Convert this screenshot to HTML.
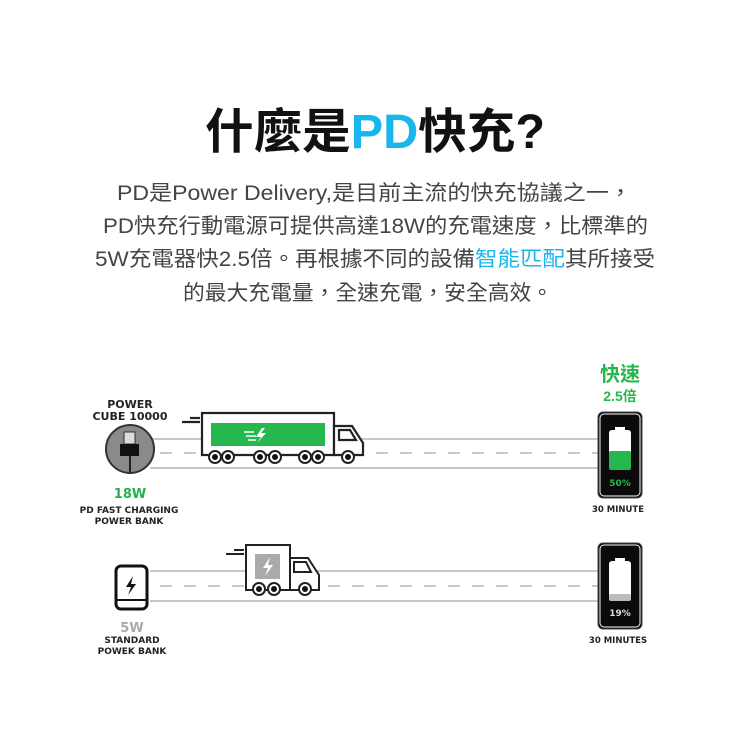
<!DOCTYPE html>
<html><head><meta charset="utf-8"><style>
html,body{margin:0;padding:0;background:#fff;}
svg{display:block;}
.t{font-family:"Liberation Sans","Noto Sans CJK TC",sans-serif;}
.p{font-family:"Liberation Sans","Noto Sans CJK TC",sans-serif;font-size:21px;fill:#444;}
.b{font-family:"DejaVu Sans","Liberation Sans",sans-serif;font-weight:bold;fill:#222;}
</style></head><body>
<svg width="750" height="750" viewBox="0 0 750 750" xmlns="http://www.w3.org/2000/svg">
<rect width="750" height="750" fill="#fff"/>
<text class="t" x="375" y="148" text-anchor="middle" font-size="48" font-weight="bold" fill="#111" textLength="340" lengthAdjust="spacingAndGlyphs">什麼是<tspan fill="#18b6ec">PD</tspan>快充?</text>
<text class="p" x="117" y="200" textLength="515" lengthAdjust="spacingAndGlyphs">PD是Power Delivery,是目前主流的快充協議之一，</text>
<text class="p" x="103" y="233" textLength="545" lengthAdjust="spacingAndGlyphs">PD快充行動電源可提供高達18W的充電速度，比標準的</text>
<text class="p" x="95" y="266" textLength="560" lengthAdjust="spacingAndGlyphs">5W充電器快2.5倍。再根據不同的設備<tspan fill="#18b6ec">智能匹配</tspan>其所接受</text>
<text class="p" x="183" y="300" textLength="370" lengthAdjust="spacingAndGlyphs">的最大充電量，全速充電，安全高效。</text>

<!-- road 1 -->
<g stroke="#c8c8c8" stroke-width="2">
<line x1="150" y1="439" x2="600" y2="439"/><line x1="150" y1="468" x2="600" y2="468"/>
<line x1="160" y1="453" x2="600" y2="453" stroke-dasharray="12,12"/>
<line x1="150" y1="571" x2="600" y2="571"/><line x1="150" y1="601" x2="600" y2="601"/>
<line x1="160" y1="586" x2="600" y2="586" stroke-dasharray="12,12"/>
</g>
<text class="b" x="130" y="408" font-size="11" text-anchor="middle">POWER</text>
<text class="b" x="130" y="420" font-size="11" text-anchor="middle">CUBE 10000</text>
<circle cx="130" cy="449" r="24" fill="#8a8a8a" stroke="#333" stroke-width="2"/>
<rect x="124" y="432" width="11" height="12" fill="#ddd" stroke="#333" stroke-width="1"/>
<rect x="120" y="444" width="19" height="12" fill="#111"/>
<line x1="130" y1="456" x2="130" y2="472" stroke="#222" stroke-width="2"/>
<text class="b" x="130" y="498" font-size="13" text-anchor="middle" fill="#22b24c" style="fill:#22b24c">18W</text>
<text class="b" x="129" y="513" font-size="9" text-anchor="middle">PD FAST CHARGING</text>
<text class="b" x="129" y="524" font-size="9" text-anchor="middle">POWER BANK</text>

<!-- truck 1 -->
<g stroke="#222" stroke-width="2.2" fill="#fff">
<line x1="182" y1="422" x2="200" y2="422"/><line x1="190" y1="418" x2="200" y2="418"/>
<path d="M202 413 H334 V455 H202 Z"/>
<path d="M334 426 H352 L363 443 V455 H334 Z"/>
<path d="M339 430 H350 L356 440 H339 Z"/>
</g>
<rect x="211" y="423" width="114" height="23" fill="#25b84c"/>
<path d="M262 428 L256 437 H261 L257 443 L266 433 H261 L265 428 Z" fill="#fff"/>
<g stroke="#fff" stroke-width="1.5"><line x1="244" y1="432" x2="254" y2="432"/><line x1="246" y1="436" x2="256" y2="436"/><line x1="248" y1="440" x2="256" y2="440"/></g>
<g fill="#fff" stroke="#222" stroke-width="2">
<circle cx="215" cy="457" r="6"/><circle cx="228" cy="457" r="6"/><circle cx="260" cy="457" r="6"/><circle cx="275" cy="457" r="6"/><circle cx="305" cy="457" r="6"/><circle cx="318" cy="457" r="6"/><circle cx="348" cy="457" r="6"/>
</g>
<g fill="#111"><circle cx="215" cy="457" r="3"/><circle cx="228" cy="457" r="3"/><circle cx="260" cy="457" r="3"/><circle cx="275" cy="457" r="3"/><circle cx="305" cy="457" r="3"/><circle cx="318" cy="457" r="3"/><circle cx="348" cy="457" r="3"/></g>

<!-- phone 1 -->
<text class="t" x="620" y="381" font-size="20" font-weight="bold" text-anchor="middle" fill="#25b84c">快速</text>
<text class="t" x="620" y="401" font-size="14" font-weight="bold" text-anchor="middle" fill="#25b84c">2.5倍</text>
<rect x="598" y="412" width="44" height="86" rx="5" fill="#0a0a0a" stroke="#444" stroke-width="1"/>
<rect x="600" y="414" width="40" height="82" rx="4" fill="none" stroke="#fff" stroke-width="1"/>
<rect x="609" y="430" width="22" height="40" rx="3" fill="#fff"/>
<rect x="615" y="427" width="10" height="4" fill="#fff"/>
<rect x="609" y="451" width="22" height="19" rx="2" fill="#25b84c"/>
<text class="b" x="620" y="486" font-size="9" text-anchor="middle" style="fill:#25b84c">50%</text>
<text class="b" x="618" y="512" font-size="8.5" text-anchor="middle">30 MINUTE</text>

<!-- road 2 items -->
<rect x="116" y="566" width="31" height="43" rx="5" fill="#fff" stroke="#111" stroke-width="3"/>
<line x1="117" y1="600" x2="146" y2="600" stroke="#111" stroke-width="2"/>
<path d="M133 576 L126 587 H131 L128 595 L136 584 H131 Z" fill="#111"/>
<text class="b" x="132" y="632" font-size="13" text-anchor="middle" style="fill:#aaa">5W</text>
<text class="b" x="132" y="643" font-size="9" text-anchor="middle">STANDARD</text>
<text class="b" x="132" y="654" font-size="9" text-anchor="middle">POWEK BANK</text>

<g stroke="#222" stroke-width="2" fill="#fff">
<line x1="226" y1="554" x2="244" y2="554"/><line x1="234" y1="550" x2="244" y2="550"/>
<path d="M246 545 H290 V590 H246 Z"/>
<path d="M290 558 H308 L319 575 V590 H290 Z"/>
<path d="M294 562 H306 L311 572 H294 Z"/>
</g>
<rect x="255" y="554" width="25" height="25" fill="#aaa"/>
<path d="M270 557 L263 568 H268 L265 576 L273 565 H268 Z" fill="#fff"/>
<g fill="#fff" stroke="#222" stroke-width="2"><circle cx="259" cy="589" r="6"/><circle cx="274" cy="589" r="6"/><circle cx="305" cy="589" r="6"/></g>
<g fill="#111"><circle cx="259" cy="589" r="3"/><circle cx="274" cy="589" r="3"/><circle cx="305" cy="589" r="3"/></g>

<rect x="598" y="543" width="44" height="86" rx="5" fill="#0a0a0a" stroke="#444" stroke-width="1"/>
<rect x="600" y="545" width="40" height="82" rx="4" fill="none" stroke="#fff" stroke-width="1"/>
<rect x="609" y="561" width="22" height="40" rx="3" fill="#fff"/>
<rect x="615" y="558" width="10" height="4" fill="#fff"/>
<rect x="609" y="594" width="22" height="7" rx="2" fill="#bbb"/>
<text class="b" x="620" y="616" font-size="9" text-anchor="middle" style="fill:#ddd">19%</text>
<text class="b" x="618" y="643" font-size="8.5" text-anchor="middle">30 MINUTES</text>
</svg>
</body></html>
